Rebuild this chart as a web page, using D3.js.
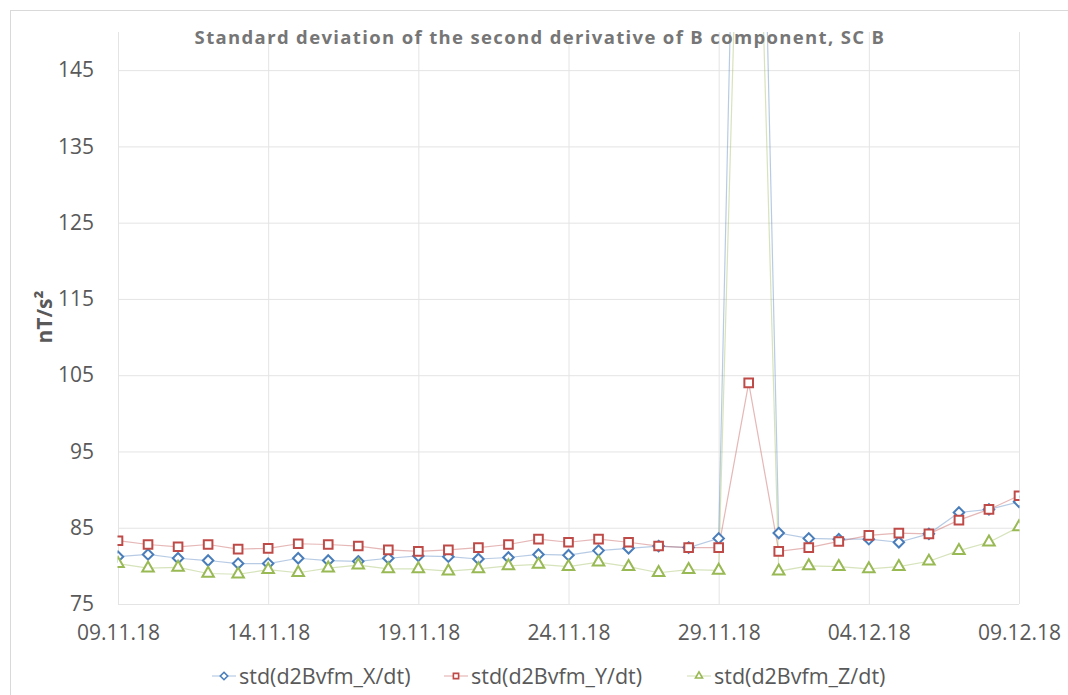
<!DOCTYPE html>
<html>
<head>
<meta charset="utf-8">
<script src="https://cdn.jsdelivr.net/npm/d3@7"></script>
<style>
  body { margin: 0; background: #fff; }
  text { font-family: "Open Sans", sans-serif; }
</style>
</head>
<body>
<script>
var svgW = 1068;
var svgH = 695;

// dates 09.11.18 .. 09.12.18
var dates = ["09.11.18","10.11.18","11.11.18","12.11.18","13.11.18","14.11.18","15.11.18","16.11.18",
  "17.11.18","18.11.18","19.11.18","20.11.18","21.11.18","22.11.18","23.11.18","24.11.18","25.11.18",
  "26.11.18","27.11.18","28.11.18","29.11.18","30.11.18","01.12.18","02.12.18","03.12.18","04.12.18",
  "05.12.18","06.12.18","07.12.18","08.12.18","09.12.18"];

var xLabels = ["09.11.18","14.11.18","19.11.18","24.11.18","29.11.18","04.12.18","09.12.18"];
var yTicks = [75, 85, 95, 105, 115, 125, 135, 145];

var stdX = [81.2, 81.5, 81.0, 80.7, 80.3, 80.3, 81.0, 80.7, 80.6, 81.0, 81.3, 81.2, 80.9, 81.1, 81.5, 81.4,
  82.0, 82.3, 82.6, 82.4, 83.6, 258, 84.3, 83.6, 83.5, 83.5, 83.1, 84.2, 87.0, 87.4, 88.4];
var stdY = [83.3, 82.8, 82.5, 82.8, 82.2, 82.3, 82.9, 82.8, 82.6, 82.1, 81.9, 82.1, 82.4, 82.8, 83.5, 83.1,
  83.5, 83.1, 82.6, 82.4, 82.4, 104.0, 81.9, 82.4, 83.2, 84.0, 84.3, 84.2, 86.0, 87.4, 89.2];
var stdZ = [80.3, 79.7, 79.8, 79.0, 78.9, 79.5, 79.1, 79.7, 80.1, 79.6, 79.6, 79.3, 79.6, 80.0, 80.2, 79.9,
  80.5, 79.9, 79.1, 79.5, 79.4, 220, 79.3, 80.0, 79.9, 79.6, 79.9, 80.6, 82.0, 83.1, 85.1];

var seriesNames = ["std(d2Bvfm_X/dt)", "std(d2Bvfm_Y/dt)", "std(d2Bvfm_Z/dt)"];
var seriesColors = ["#4a7ebb", "#be4b48", "#98b954"];
var seriesShapes = [d3.symbolDiamond2, d3.symbolSquare2, d3.symbolTriangle2];
var markerSizes = [70, 95, 95];

var series = [stdX, stdY, stdZ].map(function (vals, k) {
  return { name: seriesNames[k], color: seriesColors[k], shape: seriesShapes[k], size: markerSizes[k],
    values: vals.map(function (v, i) { return { date: dates[i], value: v }; }) };
});

var margin = { top: 32, right: 49, bottom: 91, left: 118 };
var chartWidth = svgW - margin.left - margin.right;
var chartHeight = svgH - margin.top - margin.bottom;

var svg = d3.select("body").append("svg")
  .attr("width", svgW)
  .attr("height", svgH);

// chart border
svg.append("rect")
  .attr("x", 10.5).attr("y", 10.5)
  .attr("width", svgW + 20).attr("height", svgH + 20)
  .attr("fill", "none").attr("stroke", "#d9d9d9");

svg.append("defs").append("clipPath").attr("id", "plotclip")
  .append("rect").attr("width", chartWidth + 1).attr("height", chartHeight + 1).attr("x", -0.5);

var g = svg.append("g")
  .attr("transform", "translate(" + margin.left + "," + margin.top + ")");

var xScale = d3.scalePoint().domain(dates).range([0, chartWidth]);
var yScale = d3.scaleLinear().domain([75, 150]).range([chartHeight, 0]);

// gridlines
g.append("g").attr("class", "ygrid")
  .call(d3.axisLeft(yScale).tickValues(yTicks).tickSize(-chartWidth).tickFormat(""))
  .call(function (s) { s.select(".domain").remove(); })
  .selectAll("line").attr("stroke", "#e4e4e4");

g.append("g").attr("class", "xgrid")
  .attr("transform", "translate(0," + chartHeight + ")")
  .call(d3.axisBottom(xScale).tickValues(xLabels).tickSize(-chartHeight).tickFormat(""))
  .call(function (s) { s.select(".domain").remove(); })
  .selectAll("line").attr("stroke", "#e4e4e4");

// axes labels
var yAxis = g.append("g")
  .call(d3.axisLeft(yScale).tickValues(yTicks).tickSize(0).tickPadding(24));
yAxis.select(".domain").remove();
yAxis.selectAll("text").attr("fill", "#595959").style("font-size", "21px")
  .style("font-family", "'Open Sans', sans-serif");

var xAxis = g.append("g")
  .attr("transform", "translate(0," + chartHeight + ")")
  .call(d3.axisBottom(xScale).tickValues(xLabels).tickSize(0).tickPadding(21));
xAxis.select(".domain").remove();
xAxis.selectAll("text").attr("fill", "#595959").style("font-size", "21px")
  .style("font-family", "'Open Sans', sans-serif");

// lines
var line = d3.line()
  .x(function (d) { return xScale(d.date); })
  .y(function (d) { return yScale(d.value); });

var plot = g.append("g").attr("clip-path", "url(#plotclip)");

plot.selectAll(".series-line")
  .data(series)
  .enter().append("path")
  .attr("class", "series-line")
  .attr("d", function (d) { return line(d.values); })
  .attr("fill", "none")
  .attr("stroke", function (d) { return d.color; })
  .attr("stroke-opacity", 0.4)
  .attr("stroke-width", 1.2);

series.forEach(function (s) {
  plot.selectAll(null)
    .data(s.values.filter(function (d) { return d.value <= 150; }))
    .enter().append("path")
    .attr("transform", function (d) { return "translate(" + xScale(d.date) + "," + yScale(d.value) + ")"; })
    .attr("d", d3.symbol().type(s.shape).size(s.size))
    .attr("fill", "#fff")
    .attr("stroke", s.color)
    .attr("stroke-width", 2);
});

// title
svg.append("text")
  .attr("x", 540).attr("y", 44)
  .attr("text-anchor", "middle")
  .attr("fill", "#767676")
  .style("font-weight", "bold")
  .style("font-size", "18.5px")
  .style("letter-spacing", "1.35px")
  .text("Standard deviation of the second derivative of B component, SC B");

// y label
svg.append("text")
  .attr("transform", "translate(52,317) rotate(-90)")
  .attr("text-anchor", "middle")
  .attr("fill", "#595959")
  .style("font-weight", "bold")
  .style("font-size", "21px")
  .text("nT/s\u00B2");

// legend
var legendX = [212, 444, 687];
var legend = svg.selectAll(".legend")
  .data(series)
  .enter().append("g")
  .attr("class", "legend")
  .attr("transform", function (d, i) { return "translate(" + legendX[i] + ",676)"; });

legend.append("line")
  .attr("x1", 0).attr("x2", 24)
  .attr("stroke", function (d) { return d.color; })
  .attr("stroke-opacity", 0.4)
  .attr("stroke-width", 1.2);

legend.append("path")
  .attr("transform", "translate(12,0)")
  .attr("d", function (d) { return d3.symbol().type(d.shape).size(35)(); })
  .attr("fill", "#fff")
  .attr("stroke", function (d) { return d.color; })
  .attr("stroke-width", 1.6);

legend.append("text")
  .attr("x", 27).attr("dy", "0.35em")
  .attr("fill", "#595959")
  .style("font-size", "21.5px")
  .text(function (d) { return d.name; });
</script>
</body>
</html>
